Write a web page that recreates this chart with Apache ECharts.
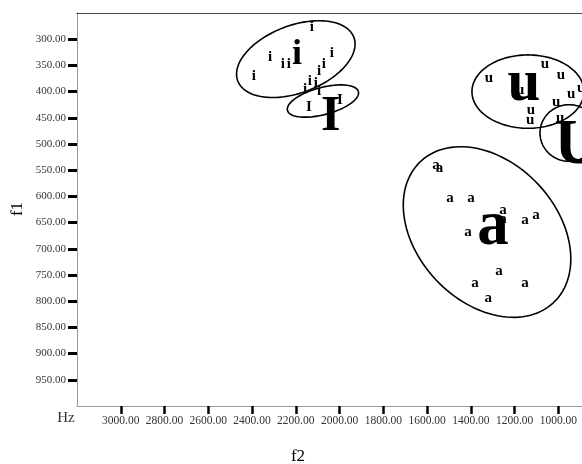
<!DOCTYPE html>
<html><head><meta charset="utf-8">
<script src="https://cdn.jsdelivr.net/npm/echarts@6/dist/echarts.min.js"></script>
<style>html,body{margin:0;padding:0;background:#fff}#c{width:582px;height:464px}</style>
</head><body><div id="c"></div>
<script>
// ---- data ----
const xTicks = [3000, 2800, 2600, 2400, 2200, 2000, 1800, 1600, 1400, 1200, 1000];
const yTicks = [300, 350, 400, 450, 500, 550, 600, 650, 700, 750, 800, 850, 900, 950];

const iF2 = [2127, 2318, 2259, 2232, 2392, 2035, 2072, 2094, 2158, 2136, 2108, 2094];
const iF1 = [277, 334, 347, 347, 370, 326, 347, 360, 395, 380, 383, 399];

const IF2 = [2140, 1998];
const IF1 = [429, 416];

const uF2 = [1317, 1061, 988, 942, 896, 1010, 1125, 1129, 1175, 992];
const uF1 = [378, 351, 372, 408, 397, 423, 439, 458, 400, 454];

const UF2 = [];
const UF1 = [];

const aF2 = [1559, 1543, 1495, 1399, 1253, 1253, 1152, 1102, 1413, 1271, 1381, 1152, 1321];
const aF1 = [543, 549, 607, 607, 630, 647, 649, 639, 671, 746, 769, 769, 797];

const vowels = ['i', 'I', 'u', 'U', 'a'];
const centroidF2 = [2195, 2040, 1157, 914, 1299];
const centroidF1 = [329, 448, 398, 505, 672];

// ellipses: centre and two conjugate semi-axes (Hz)
const ellipseF2 = [2200, 2076, 1139, 951, 1326];
const ellipseF1 = [338, 418, 400, 479, 668];
const ellipseAxisA = [[-265, -42], [-162, -18], [-256, 0], [-133, 0], [-303, 135]];
const ellipseAxisB = [[-56, 60], [-16, 25], [0, 70], [0, 54], [234, 91]];

// ---- styles ----
const FONT = '"Liberation Serif", "DejaVu Serif", serif';
const smallSize = 15;
const bigSize = {i: 36, I: 50, u: 59, U: 63, a: 63};
const glyphMid = {i: 0.345, I: 0.33, u: 0.23, U: 0.33, a: 0.23};
const emMid = 0.33;

function letterSeries(letter, f2, f1, size) {
  return {
    type: 'custom',
    coordinateSystem: 'cartesian2d',
    clip: false,
    data: f2.map((v, k) => [v, f1[k]]),
    encode: {x: 0, y: 1},
    renderItem: function (params, api) {
      const p = api.coord([api.value(0), api.value(1)]);
      return {
        type: 'text',
        x: p[0], y: p[1] + (glyphMid[letter] - emMid) * size,
        style: {
          text: letter, fill: '#000',
          font: 'bold ' + size + 'px ' + FONT,
          align: 'center', verticalAlign: 'middle'
        }
      };
    }
  };
}

const series = [];
// ellipses
series.push({
  type: 'custom',
  coordinateSystem: 'cartesian2d',
  clip: false,
  data: ellipseF2.map((v, k) => [v, ellipseF1[k], ellipseAxisA[k][0], ellipseAxisA[k][1], ellipseAxisB[k][0], ellipseAxisB[k][1]]),
  encode: {x: 0, y: 1},
  renderItem: function (params, api) {
    const cx = api.value(0), cy = api.value(1);
    const ax = api.value(2), ay = api.value(3), bx = api.value(4), by = api.value(5);
    const pts = [];
    for (let s = 0; s < 120; s++) {
      const t = s / 120 * Math.PI * 2;
      pts.push(api.coord([cx + ax * Math.cos(t) + bx * Math.sin(t), cy + ay * Math.cos(t) + by * Math.sin(t)]));
    }
    return {type: 'polygon', shape: {points: pts}, style: {fill: 'none', stroke: '#000', lineWidth: 1.6}};
  }
});
series.push(letterSeries('i', iF2, iF1, smallSize));
series.push(letterSeries('I', IF2, IF1, smallSize));
series.push(letterSeries('u', uF2, uF1, smallSize));
series.push(letterSeries('U', UF2, UF1, smallSize));
series.push(letterSeries('a', aF2, aF1, smallSize));
vowels.forEach((v, k) => {
  series.push(letterSeries(v, [centroidF2[k]], [centroidF1[k]], bigSize[v]));
});

const chart = echarts.init(document.getElementById('c'), null, {renderer: 'canvas'});
chart.setOption({
  animation: false,
  backgroundColor: '#fff',
  grid: {left: 77, top: 13, bottom: 58, right: 0, containLabel: false},
  xAxis: [{
    type: 'value', inverse: true, min: 892, max: 3200,
    splitLine: {show: false},
    axisLine: {show: true, onZero: false, lineStyle: {color: '#9a9a9a', width: 1}},
    axisTick: {show: true, customValues: xTicks, length: 8, lineStyle: {color: '#000', width: 2.5}},
    axisLabel: {customValues: xTicks, formatter: v => v.toFixed(2), color: '#333', fontFamily: FONT, fontSize: 11.5, margin: 9}
  }, {
    type: 'value', inverse: true, min: 892, max: 3200, position: 'top',
    splitLine: {show: false},
    axisLine: {show: true, onZero: false, lineStyle: {color: '#444', width: 1.2}},
    axisTick: {show: false}, axisLabel: {show: false}
  }],
  yAxis: {
    type: 'value', inverse: true, min: 250, max: 1000,
    splitLine: {show: false},
    axisLine: {show: true, onZero: false, lineStyle: {color: '#9a9a9a', width: 1}},
    axisTick: {show: true, customValues: yTicks, length: 9, lineStyle: {color: '#000', width: 3}},
    axisLabel: {customValues: yTicks, formatter: v => v.toFixed(2), color: '#333', fontFamily: FONT, fontSize: 11, margin: 11}
  },
  graphic: [
    {type: 'text', x: 66, y: 418, style: {text: 'Hz', font: '15px ' + FONT, fill: '#333', align: 'center', verticalAlign: 'middle'}},
    {type: 'text', x: 298, y: 457, style: {text: 'f2', font: '17px ' + FONT, fill: '#000', align: 'center', verticalAlign: 'middle'}},
    {type: 'text', x: 18, y: 209, rotation: Math.PI / 2, style: {text: 'f1', font: '17px ' + FONT, fill: '#000', align: 'center', verticalAlign: 'middle'}}
  ],
  series: series
});
</script>
</body></html>
